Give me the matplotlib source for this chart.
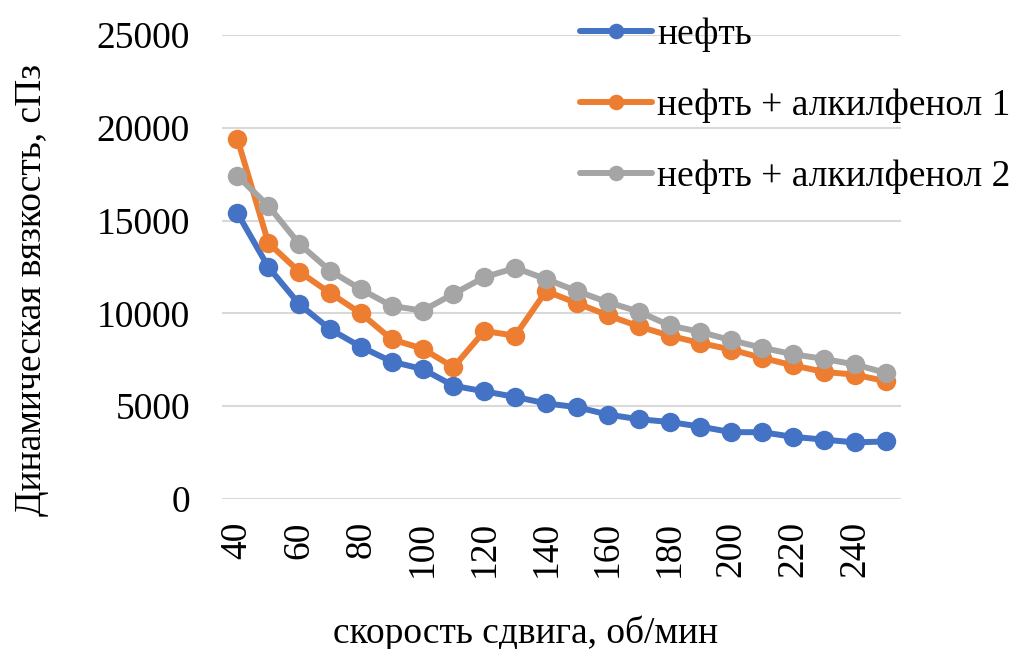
import matplotlib
matplotlib.use("Agg")
import matplotlib.pyplot as plt

# Shear rate, rpm
shear_rate = [40, 50, 60, 70, 80, 90, 100, 110, 120, 130, 140,
              150, 160, 170, 180, 190, 200, 210, 220, 230, 240, 250]

# Dynamic viscosity, cP
oil = [15400, 12500, 10500, 9150, 8200, 7400, 7000, 6100, 5800, 5500, 5150,
       4950, 4550, 4300, 4150, 3900, 3600, 3600, 3350, 3200, 3050, 3100]
oil_alkylphenol_1 = [19400, 13800, 12250, 11100, 10000, 8600, 8100, 7100, 9050, 8800, 11200,
                     10550, 9900, 9300, 8800, 8400, 8050, 7600, 7200, 6850, 6700, 6350]
oil_alkylphenol_2 = [17400, 15800, 13750, 12300, 11300, 10400, 10150, 11050, 11950, 12450, 11850,
                     11200, 10600, 10100, 9350, 9000, 8550, 8150, 7800, 7550, 7250, 6800]

series_labels = ["нефть", "нефть + алкилфенол 1", "нефть + алкилфенол 2"]
y_ticks = [0, 5000, 10000, 15000, 20000, 25000]
x_ticks = [40, 60, 80, 100, 120, 140, 160, 180, 200, 220, 240]

colors = ["#4472C4", "#ED7D31", "#A5A5A5"]

plt.rcParams["font.family"] = ["Liberation Serif", "DejaVu Serif"]
FS = 27

W, H = 1018, 649
fig = plt.figure(figsize=(W / 100, H / 100), dpi=100)
ax = fig.add_axes([222 / W, 1 - 499 / H, (901 - 222) / W, (499 - 35) / H])

for vals, col, lab in zip([oil, oil_alkylphenol_1, oil_alkylphenol_2], colors, series_labels):
    ax.plot(shear_rate, vals, color=col, lw=4.3, marker="o", ms=14,
            markeredgewidth=0, label=lab, solid_capstyle="round", zorder=3)

ax.set_xlim(35, 255)
ax.set_ylim(0, 25000)
ax.set_yticks(y_ticks)
ax.set_yticklabels([str(v) for v in y_ticks])
ax.set_xticks(x_ticks)
ax.set_xticklabels([str(v) for v in x_ticks], rotation=90, va="top")
ax.tick_params(axis="both", length=0, labelsize=FS, colors="#000000")
ax.tick_params(axis="y", pad=23)
ax.tick_params(axis="x", pad=16)
ax.grid(axis="y", color="#D9D9D9", lw=1.5, zorder=0)
for s in ax.spines.values():
    s.set_visible(False)

fig.text(32 / W, 1 - 290 / H, "Динамическая вязкость, сПз", rotation=90,
         ha="center", va="center", fontsize=FS)
fig.text(526 / W, 1 - 633 / H, "скорость сдвига, об/мин",
         ha="center", va="center", fontsize=FS)

ax.legend(loc="upper left", bbox_to_anchor=(580 / W, 1 - 18 / H),
          bbox_transform=fig.transFigure, frameon=False, fontsize=FS,
          borderpad=0, borderaxespad=0, handlelength=1.92, handletextpad=0.13,
          labelspacing=0.97, numpoints=1, markerscale=0.8)

fig.savefig("out.png", dpi=100)
